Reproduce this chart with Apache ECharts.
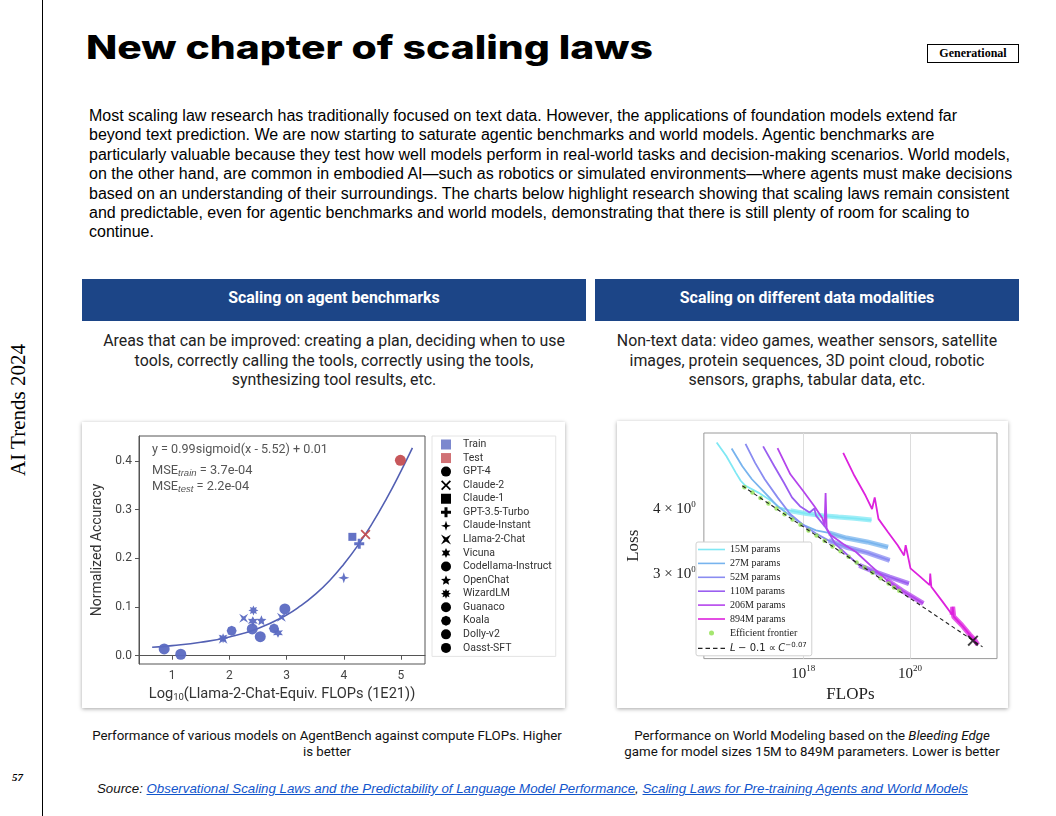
<!DOCTYPE html>
<html><head><meta charset="utf-8">
<script src="https://cdn.jsdelivr.net/npm/echarts@6/dist/echarts.min.js"></script>
<style>
html,body{margin:0;padding:0;background:#fff;}
body{width:1056px;height:816px;position:relative;overflow:hidden;font-family:'Liberation Sans',Arial,sans-serif;color:#000;}
.abs{position:absolute;}
#vline{left:42px;top:0;width:1px;height:816px;background:#000;}
#side{left:18px;top:410px;transform:translate(-50%,-50%) rotate(-90deg);font-family:'Liberation Serif';font-size:21px;white-space:nowrap;}
#page{left:12px;top:771px;font-family:'Liberation Serif';font-style:italic;font-weight:bold;font-size:11px;}
#title{left:86px;top:28px;font-family:Inter;font-weight:800;font-size:32px;line-height:40px;white-space:nowrap;transform-origin:0 0;}
#tag{left:927px;top:44px;width:90px;height:17px;border:1px solid #000;font-family:'Liberation Serif';font-weight:bold;font-size:12px;text-align:center;line-height:17px;}
#para{left:89px;top:106px;font-size:16px;line-height:19.4px;white-space:nowrap;}
.hdr{top:279px;height:42px;background:#1c4587;color:#fff;font-family:Roboto;font-weight:bold;font-size:15.9px;line-height:38px;text-align:center;}
.sub{top:331px;font-family:Roboto;font-size:15.9px;line-height:19.5px;text-align:center;color:#222;white-space:nowrap;}
.panel{background:#fff;box-shadow:0 1px 4px rgba(0,0,0,0.35);}
.cap{top:728px;font-family:Roboto;font-size:13.3px;line-height:15.5px;text-align:center;white-space:nowrap;color:#111;}
#src{left:97px;top:781px;font-style:italic;font-size:13.3px;white-space:nowrap;color:#111;}
#src a{color:#1155cc;text-decoration:underline;}
</style></head>
<body>
<div id="vline" class="abs"></div>
<div id="side" class="abs">AI Trends 2024</div>
<div id="page" class="abs">57</div>
<div id="title" class="abs">New chapter of scaling laws</div>
<div id="tag" class="abs">Generational</div>
<div id="para" class="abs">Most scaling law research has traditionally focused on text data. However, the applications of foundation models extend far<br>beyond text prediction. We are now starting to saturate agentic benchmarks and world models. Agentic benchmarks are<br>particularly valuable because they test how well models perform in real-world tasks and decision-making scenarios. World models,<br>on the other hand, are common in embodied AI—such as robotics or simulated environments—where agents must make decisions<br>based on an understanding of their surroundings. The charts below highlight research showing that scaling laws remain consistent<br>and predictable, even for agentic benchmarks and world models, demonstrating that there is still plenty of room for scaling to<br>continue.</div>
<div class="abs hdr" style="left:82px;width:504px;">Scaling on agent benchmarks</div>
<div class="abs hdr" style="left:595px;width:424px;">Scaling on different data modalities</div>
<div class="abs sub" style="left:82px;width:504px;">Areas that can be improved: creating a plan, deciding when to use<br>tools, correctly calling the tools, correctly using the tools,<br>synthesizing tool results, etc.</div>
<div class="abs sub" style="left:595px;width:424px;">Non-text data: video games, weather sensors, satellite<br>images, protein sequences, 3D point cloud, robotic<br>sensors, graphs, tabular data, etc.</div>
<div id="left" class="abs panel" style="left:82px;top:422px;width:483px;height:286px;"></div>
<div id="right" class="abs panel" style="left:617px;top:421px;width:391px;height:287px;"></div>
<div class="abs cap" style="left:82px;width:490px;">Performance of various models on AgentBench against compute FLOPs. Higher<br>is better</div>
<div class="abs cap" style="left:612px;width:400px;">Performance on World Modeling based on the <i>Bleeding Edge</i><br>game for model sizes 15M to 849M parameters. Lower is better</div>
<div id="src" class="abs">Source: <a>Observational Scaling Laws and the Predictability of Language Model Performance</a>, <a>Scaling Laws for Pre-training Agents and World Models</a></div>
<script>
// ===== Left chart data (AgentBench) =====
const accXTicks = [1, 2, 3, 4, 5];
const accYTicks = [0, 0.1, 0.2, 0.3, 0.4];
const fitX = [0.65, 1.0, 1.5, 2.0, 2.5, 3.0, 3.25, 3.5, 3.75, 4.0, 4.25, 4.5, 4.75, 5.0, 5.2];
const fitY = [0.0175, 0.0207, 0.0275, 0.0385, 0.056, 0.0837, 0.1027, 0.126, 0.154, 0.188, 0.227, 0.272, 0.323, 0.379, 0.4265];
const modelNames = ['GPT-4', 'Claude-2', 'Claude-1', 'GPT-3.5-Turbo', 'Claude-Instant', 'Llama-2-Chat', 'Vicuna', 'Codellama-Instruct', 'OpenChat', 'WizardLM', 'Guanaco', 'Koala', 'Dolly-v2', 'Oasst-SFT'];
const testModels = ['GPT-4', 'Claude-2'];
const ptsGPT4 = [[4.99, 0.401]];
const ptsClaude2 = [[4.38, 0.249]];
const ptsClaude1 = [[4.15, 0.244]];
const ptsGPT35 = [[4.27, 0.230]];
const ptsClaudeInstant = [[4.00, 0.160]];
const ptsLlama2Chat = [[1.89, 0.034], [2.25, 0.077], [2.91, 0.079]];
const ptsVicuna = [[2.41, 0.071], [2.85, 0.047]];
const ptsCodellama = [[2.40, 0.055], [2.97, 0.096]];
const ptsOpenChat = [[2.56, 0.073]];
const ptsWizardLM = [[2.42, 0.093], [1.89, 0.036]];
const ptsGuanaco = [[2.54, 0.039]];
const ptsKoala = [[2.04, 0.051], [2.78, 0.056]];
const ptsDolly = [[1.15, 0.003]];
const ptsOasst = [[0.86, 0.014]];
const modelPoints = [ptsGPT4, ptsClaude2, ptsClaude1, ptsGPT35, ptsClaudeInstant, ptsLlama2Chat, ptsVicuna, ptsCodellama, ptsOpenChat, ptsWizardLM, ptsGuanaco, ptsKoala, ptsDolly, ptsOasst];

// ===== Right chart data (World modeling) =====
const flopsTicks = [1e18, 1e20];
const lossTicks = [3, 4];
const sizeNames = ['15M params', '27M params', '52M params', '110M params', '206M params', '894M params'];
const logC15M = [16.38, 16.56, 16.74, 16.83, 16.92, 17.16, 17.40, 17.55, 17.76, 18.06, 18.36, 18.66, 18.96, 19.28];
const loss15M = [5.36, 5.05, 4.69, 4.53, 4.43, 4.30, 4.15, 4.03, 3.97, 3.92, 3.885, 3.86, 3.84, 3.81];
const logC27M = [16.66, 16.86, 17.04, 17.28, 17.52, 17.76, 18.0, 18.24, 18.48, 18.81, 19.20, 19.59];
const loss27M = [5.22, 4.83, 4.56, 4.30, 4.05, 3.885, 3.73, 3.64, 3.60, 3.52, 3.46, 3.38];
const logC52M = [16.92, 17.10, 17.28, 17.52, 17.76, 18.0, 18.24, 18.48, 18.81, 19.20, 19.62];
const loss52M = [5.33, 4.90, 4.56, 4.21, 3.91, 3.73, 3.59, 3.48, 3.38, 3.30, 3.19];
const logC110M = [17.25, 17.46, 17.64, 17.79, 17.94, 18.12, 18.21, 18.24, 18.42, 18.60, 18.84, 19.05, 19.32, 19.62, 19.98];
const loss110M = [5.27, 4.83, 4.49, 4.21, 4.05, 3.94, 4.01, 3.885, 3.69, 3.43, 3.26, 3.12, 3.04, 2.965, 2.88];
const logC206M = [17.52, 17.76, 18.0, 18.21, 18.36, 18.40, 18.42, 18.44, 18.51, 18.75, 18.99, 19.26, 19.56, 19.86, 20.25];
const loss206M = [5.23, 4.66, 4.33, 4.05, 3.84, 3.71, 4.29, 3.67, 3.57, 3.43, 3.31, 3.12, 2.93, 2.79, 2.64];
const logC894M = [18.75, 18.96, 19.17, 19.29, 19.34, 19.41, 19.59, 19.77, 19.89, 19.92, 20.01, 20.19, 20.37, 20.38, 20.40, 20.61, 20.79, 20.80, 20.82, 20.97, 21.12, 21.21, 21.27];
const loss894M = [5.12, 4.63, 4.24, 4.0, 4.21, 3.83, 3.61, 3.41, 3.26, 3.41, 3.08, 2.97, 2.86, 3.01, 2.84, 2.66, 2.51, 2.60, 2.49, 2.40, 2.30, 2.25, 2.20];
const logCFrontier = [16.9, 17.05, 17.2, 17.35, 17.5, 17.65, 17.8, 17.95, 18.1, 18.25, 18.4, 18.55, 18.7, 18.85, 19.0, 19.15, 19.3, 19.45, 19.6, 19.7, 19.8];
const lossFrontier = [4.40, 4.30, 4.20, 4.10, 4.01, 3.91, 3.82, 3.73, 3.64, 3.56, 3.48, 3.39, 3.32, 3.24, 3.16, 3.09, 3.02, 2.95, 2.88, 2.83, 2.79];
const logCFit = [16.86, 19.0, 21.36];
const lossFit = [4.43, 3.16, 2.18];
const logCEnd = [21.18];
const lossEnd = [2.24];

// ===== styling helpers =====
function polyPath(n, inner) {
  let s = '';
  for (let i = 0; i < 2 * n; i++) {
    const a = Math.PI * i / n - Math.PI / 2;
    const r = i % 2 === 0 ? 10 : 10 * inner;
    s += (i ? 'L' : 'M') + (10 + r * Math.cos(a)).toFixed(2) + ',' + (10 + r * Math.sin(a)).toFixed(2) + ' ';
  }
  return 'path://' + s + 'Z';
}
const xPath = 'path://M2.5,0 L10,7.5 L17.5,0 L20,2.5 L12.5,10 L20,17.5 L17.5,20 L10,12.5 L2.5,20 L0,17.5 L7.5,10 L0,2.5 Z';
const plusPath = 'path://M7,0 H13 V7 H20 V13 H13 V20 H7 V13 H0 V7 H7 Z';
const bowPath = 'path://M0,0 L10,6 L20,0 L14,10 L20,20 L10,14 L0,20 L6,10 Z';
const modelSymbols = ['circle', xPath, 'rect', plusPath, polyPath(4, 0.35), bowPath, polyPath(6, 0.5), 'circle', polyPath(5, 0.45), polyPath(8, 0.55), 'circle', polyPath(4, 1), 'circle', 'circle'];
const modelSizes = [11, 10, 8, 10, 11, 9, 10, 11, 10, 10, 11, 10, 11, 11];
const BLUE = '#5b6ac2', RED = '#c44e52';

// ===== Left chart =====
const lc = echarts.init(document.getElementById('left'));
const leftSeries = [
  { type: 'line', name: 'fit', data: fitX.map((x, i) => [x, fitY[i]]), smooth: true, symbol: 'none', silent: true,
    lineStyle: { color: '#5360b3', width: 1.6 }, z: 1 },
  { type: 'scatter', name: 'Train', data: [], itemStyle: { color: BLUE } },
  { type: 'scatter', name: 'Test', data: [], itemStyle: { color: RED } }
];
modelNames.forEach((n, i) => {
  leftSeries.push({ type: 'scatter', name: n, data: modelPoints[i], symbol: modelSymbols[i], symbolSize: modelSizes[i],
    itemStyle: { color: testModels.includes(n) ? RED : BLUE, opacity: 0.95 }, z: 3 });
});
const legendLeftData = [
  { name: 'Train', icon: 'rect', itemStyle: { color: BLUE } },
  { name: 'Test', icon: 'rect', itemStyle: { color: RED } }
].concat(modelNames.map((n, i) => ({ name: n, icon: modelSymbols[i], itemStyle: { color: '#000', opacity: 1 } })));

lc.setOption({
  animation: false,
  textStyle: { fontFamily: 'Roboto' },
  grid: { left: 55, top: 14, width: 288, height: 228, show: true, borderColor: '#555', borderWidth: 1 },
  xAxis: { type: 'value', min: 0.42, max: 5.42,
    axisLine: { show: true, lineStyle: { color: '#555' } },
    axisTick: { show: true, customValues: accXTicks, length: 4, lineStyle: { color: '#555' } },
    axisLabel: { customValues: accXTicks, color: '#444', fontSize: 12, margin: 6 },
    splitLine: { show: false },
    name: 'Log{sub|10}(Llama-2-Chat-Equiv. FLOPs (1E21))', nameLocation: 'middle', nameGap: 22,
    nameTextStyle: { fontSize: 14.6, color: '#333', rich: { sub: { fontSize: 9.5, padding: [7, 0, 0, 0], color: '#333' } } } },
  yAxis: { type: 'value', min: -0.017, max: 0.451,
    axisLine: { show: true, lineStyle: { color: '#555' } },
    axisTick: { show: true, customValues: accYTicks, length: 4, lineStyle: { color: '#555' } },
    axisLabel: { customValues: accYTicks, color: '#444', fontSize: 12, margin: 7, formatter: v => v.toFixed(1) },
    splitLine: { show: false },
    name: 'Normalized Accuracy', nameLocation: 'middle', nameGap: 35, nameTextStyle: { fontSize: 14, color: '#333' } },
  legend: { orient: 'vertical', left: 350, top: 14, padding: [3, 4, 3, 9], itemWidth: 10, itemHeight: 10, itemGap: 2.56,
    selectedMode: false, borderColor: '#e4e4e4', borderWidth: 1, data: legendLeftData,
    formatter: n => '{a|' + n + '}',
    textStyle: { rich: { a: { fontSize: 10.5, lineHeight: 12, padding: [0, 0, 0, 7], color: '#333', fontFamily: 'Roboto' } } } },
  graphic: [
    { type: 'text', left: 70, top: 21, style: { text: 'y = 0.99sigmoid(x - 5.52) + 0.01', fill: '#555', font: '12.6px Roboto' } },
    { type: 'text', left: 70, top: 42, style: { text: 'MSE{s|train} = 3.7e-04', fill: '#555', font: '12.8px Roboto',
        rich: { s: { fontSize: 9.5, fontStyle: 'italic', fill: '#555', padding: [6, 0, 0, 0] } } } },
    { type: 'text', left: 70, top: 58, style: { text: 'MSE{s|test} = 2.2e-04', fill: '#555', font: '12.8px Roboto',
        rich: { s: { fontSize: 9.5, fontStyle: 'italic', fill: '#555', padding: [6, 0, 0, 0] } } } }
  ],
  series: leftSeries
});

// ===== Right chart =====
const sizeColors = ['#80e8f4', '#78b4ee', '#8a8cf1', '#9a5ef0', '#b545ec', '#dd22dd'];
const sizeLogC = [logC15M, logC27M, logC52M, logC110M, logC206M, logC894M];
const sizeLoss = [loss15M, loss27M, loss52M, loss110M, loss206M, loss894M];
const tailFrom = [8, 8, 7, 11, 12, 16];
const toPts = (lx, ly) => lx.map((e, i) => [Math.pow(10, e), ly[i]]);
const rc = echarts.init(document.getElementById('right'));
const rightSeries = [];
sizeNames.forEach((n, i) => {
  rightSeries.push({ type: 'line', name: n, data: toPts(sizeLogC[i], sizeLoss[i]), symbol: 'none', silent: true,
    lineStyle: { color: sizeColors[i], width: 1.8 }, itemStyle: { color: sizeColors[i] }, z: 2 + i });
  rightSeries.push({ type: 'line', name: n + ' band', data: toPts(sizeLogC[i], sizeLoss[i]).slice(tailFrom[i]), symbol: 'none', silent: true,
    lineStyle: { color: sizeColors[i], width: 5, opacity: 0.75 }, z: 2 + i });
});
rightSeries.push({ type: 'scatter', name: 'Efficient frontier', data: toPts(logCFrontier, lossFrontier), symbol: 'circle', symbolSize: 4.5,
  itemStyle: { color: '#8ee04c' }, z: 9 });
rightSeries.push({ type: 'line', name: 'fit', data: toPts(logCFit, lossFit), symbol: 'none', silent: true,
  lineStyle: { color: '#222', width: 1.1, type: [4, 3] }, itemStyle: { color: '#222' }, z: 10 });
rightSeries.push({ type: 'scatter', name: 'end', data: toPts(logCEnd, lossEnd), symbol: xPath, symbolSize: 11,
  itemStyle: { color: '#111' }, z: 11 });

const linePath = 'path://M0,0 H27 V1.6 H0 Z';
const dashPath = 'path://M0,0 H4.5 V1.3 H0 Z M7.5,0 H12 V1.3 H7.5 Z M15,0 H19.5 V1.3 H15 Z M22.5,0 H27 V1.3 H22.5 Z';
const legendRightData = sizeNames.map((n, i) => ({ name: n, icon: linePath, itemStyle: { color: sizeColors[i] } }))
  .concat([{ name: 'Efficient frontier', icon: 'circle', itemStyle: { color: '#8ee04c' } },
           { name: 'fit', icon: dashPath, itemStyle: { color: '#222' } }]);

const supRich = { s: { fontSize: 9, padding: [0, 0, 9, 0], fontFamily: 'Liberation Serif', color: '#222' } };
rc.setOption({
  animation: false,
  textStyle: { fontFamily: 'Liberation Serif' },
  grid: { left: 75, top: 12, width: 305, height: 228, show: true, borderColor: '#9a9a9a', borderWidth: 1 },
  xAxis: { type: 'log', logBase: 10, min: 1.38e16, max: 4.27e21,
    axisLine: { show: false }, axisTick: { show: false, customValues: flopsTicks },
    splitLine: { show: true, lineStyle: { color: '#dcdcdc', width: 1 } },
    axisLabel: { customValues: flopsTicks, margin: 6, color: '#222', fontSize: 15, fontFamily: 'Liberation Serif',
      formatter: v => '10{s|' + Math.round(Math.log10(v)) + '}', rich: supRich },
    name: 'FLOPs', nameLocation: 'middle', nameGap: 24, nameTextStyle: { fontSize: 17, color: '#222', fontFamily: 'Liberation Serif' } },
  yAxis: { type: 'log', logBase: 10, min: 2.07, max: 5.59,
    axisLine: { show: false }, axisTick: { show: false, customValues: lossTicks }, splitLine: { show: false },
    axisLabel: { customValues: lossTicks, margin: 8, color: '#222', fontSize: 15, fontFamily: 'Liberation Serif',
      formatter: v => Math.round(v) + ' × 10{s|0}', rich: supRich },
    name: 'Loss', nameLocation: 'middle', nameGap: 57, nameTextStyle: { fontSize: 17, color: '#222', fontFamily: 'Liberation Serif' } },
  legend: { orient: 'vertical', left: 79, top: 121, padding: [2, 5, 2, 2], itemWidth: 27, itemHeight: 5, itemGap: 2.9,
    selectedMode: false, borderColor: '#d0d0d0', borderWidth: 1, borderRadius: 2, backgroundColor: '#fff',
    data: legendRightData,
    formatter: n => n === 'fit' ? '{i|L} {m|− 0.1 ∝} {i|C}{s|−0.07}' : n,
    textStyle: { fontSize: 10, lineHeight: 11, color: '#222', fontFamily: 'Liberation Serif',
      rich: { i: { fontStyle: 'italic', fontSize: 10, fontFamily: 'DejaVu Sans' }, m: { fontSize: 10, fontFamily: 'DejaVu Sans' },
              s: { fontSize: 7, fontFamily: 'DejaVu Sans', padding: [0, 0, 7, 0] } } } },
  series: rightSeries
});

// fit title width
const t = document.getElementById('title');
const w = t.getBoundingClientRect().width;
t.style.transform = 'scaleX(' + (567 / w) + ')';
</script>
</body></html>
